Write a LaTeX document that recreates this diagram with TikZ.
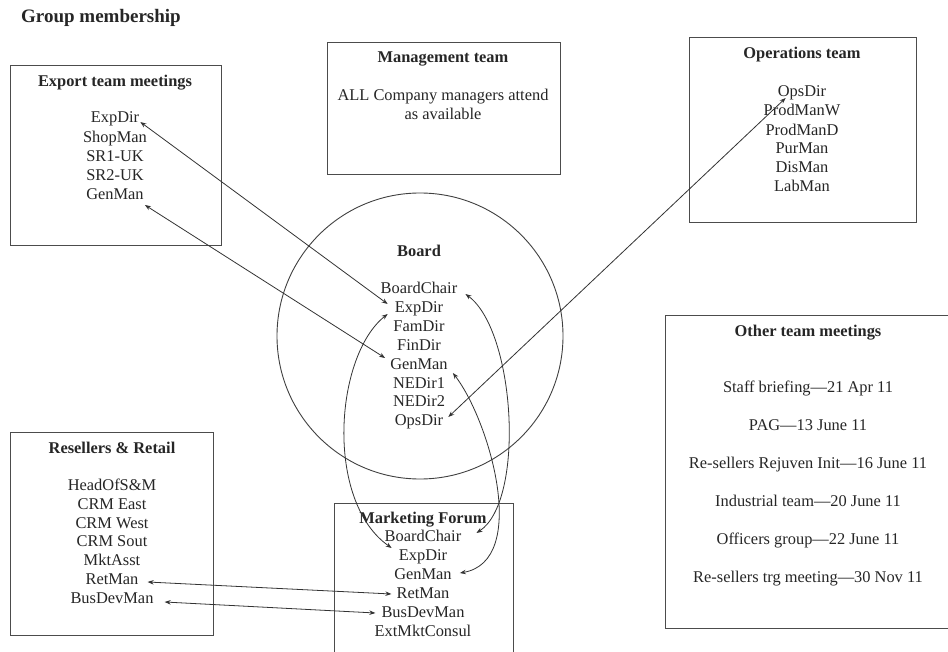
\documentclass[tikz,border=0pt]{standalone}
\usepackage{fontspec}
\setmainfont{Liberation Serif}
\usetikzlibrary{arrows.meta}
\begin{document}
\begin{tikzpicture}[x=1pt,y=-1pt,
  every node/.style={font=\fontsize{16.4}{19}\selectfont, text=black!85, inner sep=1pt, text height=11.5pt, text depth=3.3pt},
  ttl/.style={font=\fontsize{16.4}{19}\selectfont\bfseries},
  box/.style={draw=black!70, line width=0.9pt, rectangle, inner sep=0pt},
  link/.style={draw=black!80, line width=0.8pt, {Stealth[length=6pt,width=4.5pt]}-{Stealth[length=6pt,width=4.5pt]}}
]
\useasboundingbox (0,0) rectangle (948,652);
\fill[white] (0,0) rectangle (948,652);

\node[anchor=west, font=\fontsize{19}{22}\selectfont\bfseries] (title) at (20,18) {Group membership};

% boxes
\node[box, minimum width=211pt, minimum height=180pt] (exportbox) at (115.5,155) {};
\node[box, minimum width=233pt, minimum height=132pt] (mgmtbox) at (443.5,108) {};
\node[box, minimum width=227pt, minimum height=185pt] (opsbox) at (802.5,129.5) {};
\node[box, minimum width=203pt, minimum height=203pt] (resbox) at (111.5,533.5) {};
\node[box, minimum width=179pt, minimum height=177pt] (mktbox) at (423.5,591.5) {};
\node[box, minimum width=287pt, minimum height=313pt] (otherbox) at (808.5,471.5) {};
\node[draw=black!75, line width=0.9pt, circle, inner sep=0pt, minimum size=286pt] (board) at (420,336) {};

% Export team
\node[ttl] (exportttl) at (115,82) {Export team meetings};
\node (eExp) at (115,118) {ExpDir};
\node (eShop) at (115,138) {ShopMan};
\node (eSR1) at (115,157) {SR1-UK};
\node (eSR2) at (115,176) {SR2-UK};
\node (eGen) at (115,195) {GenMan};

% Management team
\node[ttl] (mgmtttl) at (443,58) {Management team};
\node[align=center, text height=, text depth=] (mgmttxt) at (443,104) {ALL Company managers attend\\as available};

% Operations team
\node[ttl] (opsttl) at (802,54) {Operations team};
\node (oOps) at (802,92) {OpsDir};
\node (oPW) at (802,111) {ProdManW};
\node (oPD) at (802,131) {ProdManD};
\node (oPur) at (802,149) {PurMan};
\node (oDis) at (802,168) {DisMan};
\node (oLab) at (802,187) {LabMan};

% Board
\node[ttl] (boardttl) at (419,252) {Board};
\node (bChair) at (419,289) {BoardChair};
\node (bExp) at (419,308) {ExpDir};
\node (bFam) at (419,327) {FamDir};
\node (bFin) at (419,346) {FinDir};
\node (bGen) at (419,365) {GenMan};
\node (bNE1) at (419,384) {NEDir1};
\node (bNE2) at (419,402) {NEDir2};
\node (bOps) at (419,421) {OpsDir};

% Resellers & Retail
\node[ttl] (resttl) at (112,449) {Resellers \& Retail};
\node (rHead) at (112,486) {HeadOfS\&M};
\node (rCE) at (112,505) {CRM East};
\node (rCW) at (112,524) {CRM West};
\node (rCS) at (112,542) {CRM Sout};
\node (rMkt) at (112,561) {MktAsst};
\node (rRet) at (112,580) {RetMan};
\node (rBus) at (112,599) {BusDevMan};

% Marketing Forum
\node[ttl] (mktttl) at (423,519) {Marketing Forum};
\node (mChair) at (423,537) {BoardChair};
\node (mExp) at (423,556) {ExpDir};
\node (mGen) at (423,575) {GenMan};
\node (mRet) at (423,594) {RetMan};
\node (mBus) at (423,613) {BusDevMan};
\node (mExt) at (423,632) {ExtMktConsul};

% Other team meetings
\node[ttl] (otherttl) at (808,332) {Other team meetings};
\node (o1) at (808,388) {Staff briefing---21 Apr 11};
\node (o2) at (808,426) {PAG---13 June 11};
\node (o3) at (808,464) {Re-sellers Rejuven Init---16 June 11};
\node (o4) at (808,502) {Industrial team---20 June 11};
\node (o5) at (808,540) {Officers group---22 June 11};
\node (o6) at (808,578) {Re-sellers trg meeting---30 Nov 11};

% connectors
\draw[link] ([yshift=-4pt]eExp.east) -- ([xshift=-6pt,yshift=4pt]bExp.west);
\draw[link] ([yshift=-10pt]eGen.east) -- ([xshift=-4pt,yshift=7pt]bGen.west);
\draw[link] ([xshift=9pt,yshift=-6pt]oOps.west) -- ([xshift=4pt,yshift=4pt]bOps.east);
\draw[link] ([xshift=-6pt,yshift=-6pt]bExp.west) .. controls +(-53,42) and +(-67,-47) .. ([xshift=-6pt,yshift=8pt]mExp.west);
\draw[link] ([xshift=7pt,yshift=-5pt]bChair.east) .. controls +(50,37) and +(49,-32) .. ([xshift=14pt,yshift=4pt]mChair.east);
\draw[link] ([xshift=4pt,yshift=-8pt]bGen.east) .. controls +(37,48) and +(70,-12) .. ([xshift=7pt,yshift=2pt]mGen.east);
\draw[link] ([xshift=8pt,yshift=-2pt]rRet.east) -- ([xshift=-4pt]mRet.west);
\draw[link] ([xshift=10pt,yshift=-3pt]rBus.east) -- ([xshift=-5pt]mBus.west);
\end{tikzpicture}
\end{document}
